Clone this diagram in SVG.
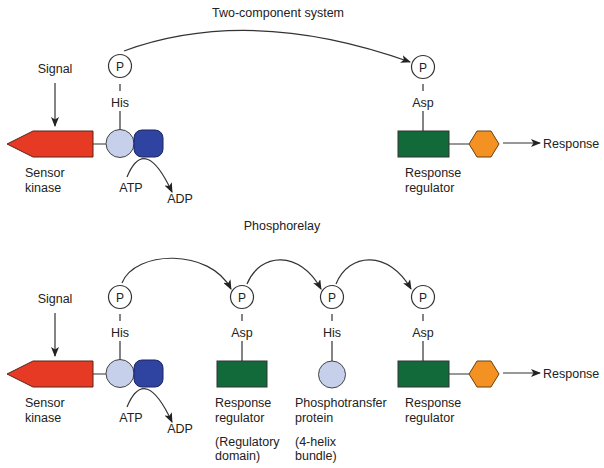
<svg xmlns="http://www.w3.org/2000/svg" width="604" height="468" viewBox="0 0 604 468">
<defs>
<style>
text{font-family:"Liberation Sans",Arial,sans-serif;font-size:12.5px;fill:#222}
.m{text-anchor:middle}
.ln{stroke:#333;stroke-width:1.2;fill:none}
.arr{stroke:#333;stroke-width:1.2;fill:none;marker-end:url(#ah)}
.pc{fill:#fff;stroke:#333;stroke-width:1.2}
.pt{font-size:12px;text-anchor:middle}
.red{fill:#e63a24;stroke:#5a2418;stroke-width:1}
.lb{fill:#c6d0ea;stroke:#444;stroke-width:1}
.db{fill:#2f44a0;stroke:#1c2560;stroke-width:1}
.gr{fill:#12693a;stroke:#333;stroke-width:1}
.or{fill:#f39223;stroke:#6a4010;stroke-width:1}
</style>
<marker id="ah" viewBox="0 0 10 8" refX="9" refY="4" markerWidth="10" markerHeight="8" markerUnits="userSpaceOnUse" orient="auto">
<path d="M0,0 L10,4 L0,8 L2.5,4 z" fill="#222"/>
</marker>
</defs>

<text class="m" x="278" y="17">Two-component system</text>
<text class="m" x="282" y="230">Phosphorelay</text>

<g id="connectors">
<path class="arr" d="M124,51 Q250,5 410,62"/>
<path class="arr" d="M55,83 L55,126"/>
<path class="ln" d="M120,84 L120,91 M120,111 L120,130 M93,144 L106,144"/>
<path class="arr" d="M127,177 Q145,134 172,192"/>
<path class="ln" d="M423,84 L423,91 M423,111 L423,131 M449,144 L469,144"/>
<path class="arr" d="M503,143 L540,143"/>

<path class="arr" d="M122,283 C135,250 210,248 231,289"/>
<path class="arr" d="M247,284 C260,252 300,250 321,289"/>
<path class="arr" d="M336,284 C349,252 389,250 411,289"/>
<path class="arr" d="M55,313 L55,356"/>
<path class="ln" d="M120,314 L120,321 M120,341 L120,360 M93,374 L106,374"/>
<path class="arr" d="M127,407 Q145,364 172,422"/>
<path class="ln" d="M242,314 L242,321 M242,341 L242,361"/>
<path class="ln" d="M332,314 L332,321 M332,341 L332,361"/>
<path class="ln" d="M423,314 L423,321 M423,341 L423,361 M449,374 L469,374"/>
<path class="arr" d="M503,373 L540,373"/>
</g>

<g id="signal1"><text class="m" x="55" y="73">Signal</text></g>
<g id="sensor1">
<path class="red" d="M7,144 L33,131 L93,131 L93,157 L33,157 Z"/>
<text x="25" y="177">Sensor</text><text x="25" y="192">kinase</text>
</g>
<g id="his1">
<circle class="pc" cx="120" cy="66" r="11.5"/><text class="pt" x="120" y="70.5">P</text>
<text class="m" x="120" y="107">His</text>
<circle class="lb" cx="120" cy="143.5" r="14"/>
<rect class="db" x="134" y="130" width="29" height="27" rx="8"/>
<text class="m" x="131" y="192">ATP</text><text class="m" x="180" y="203">ADP</text>
</g>
<g id="rr1">
<circle class="pc" cx="423" cy="67" r="11.5"/><text class="pt" x="423" y="71.5">P</text>
<text class="m" x="423" y="107">Asp</text>
<rect class="gr" x="398" y="131" width="51" height="26"/>
<polygon class="or" points="469,144 477,131 491,131 499,144 491,157 477,157"/>
<text x="405" y="177">Response</text><text x="405" y="192">regulator</text>
</g>
<g id="response1"><text x="543" y="148">Response</text></g>

<g id="signal2"><text class="m" x="55" y="303">Signal</text></g>
<g id="sensor2">
<path class="red" d="M7,374 L33,361 L93,361 L93,387 L33,387 Z"/>
<text x="25" y="407">Sensor</text><text x="25" y="422">kinase</text>
</g>
<g id="his2">
<circle class="pc" cx="120" cy="297" r="11.5"/><text class="pt" x="120" y="301.5">P</text>
<text class="m" x="120" y="337">His</text>
<circle class="lb" cx="120" cy="373.5" r="14"/>
<rect class="db" x="134" y="360" width="29" height="27" rx="8"/>
<text class="m" x="131" y="422">ATP</text><text class="m" x="180" y="433">ADP</text>
</g>
<g id="rrdomain">
<circle class="pc" cx="242" cy="297" r="11.5"/><text class="pt" x="242" y="301.5">P</text>
<text class="m" x="242" y="337">Asp</text>
<rect class="gr" x="217" y="361" width="50" height="26"/>
<text x="215" y="407">Response</text><text x="215" y="422">regulator</text>
<text x="215" y="446">(Regulatory</text><text x="215" y="460">domain)</text>
</g>
<g id="hpt">
<circle class="pc" cx="332" cy="297" r="11.5"/><text class="pt" x="332" y="301.5">P</text>
<text class="m" x="332" y="337">His</text>
<circle class="lb" cx="332" cy="374.5" r="13.5"/>
<text x="295" y="407">Phosphotransfer</text><text x="295" y="422">protein</text>
<text x="295" y="446">(4-helix</text><text x="295" y="460">bundle)</text>
</g>
<g id="rr2">
<circle class="pc" cx="423" cy="297" r="11.5"/><text class="pt" x="423" y="301.5">P</text>
<text class="m" x="423" y="337">Asp</text>
<rect class="gr" x="398" y="361" width="51" height="26"/>
<polygon class="or" points="469,374 477,361 491,361 499,374 491,387 477,387"/>
<text x="405" y="407">Response</text><text x="405" y="422">regulator</text>
</g>
<g id="response2"><text x="543" y="378">Response</text></g>
</svg>
